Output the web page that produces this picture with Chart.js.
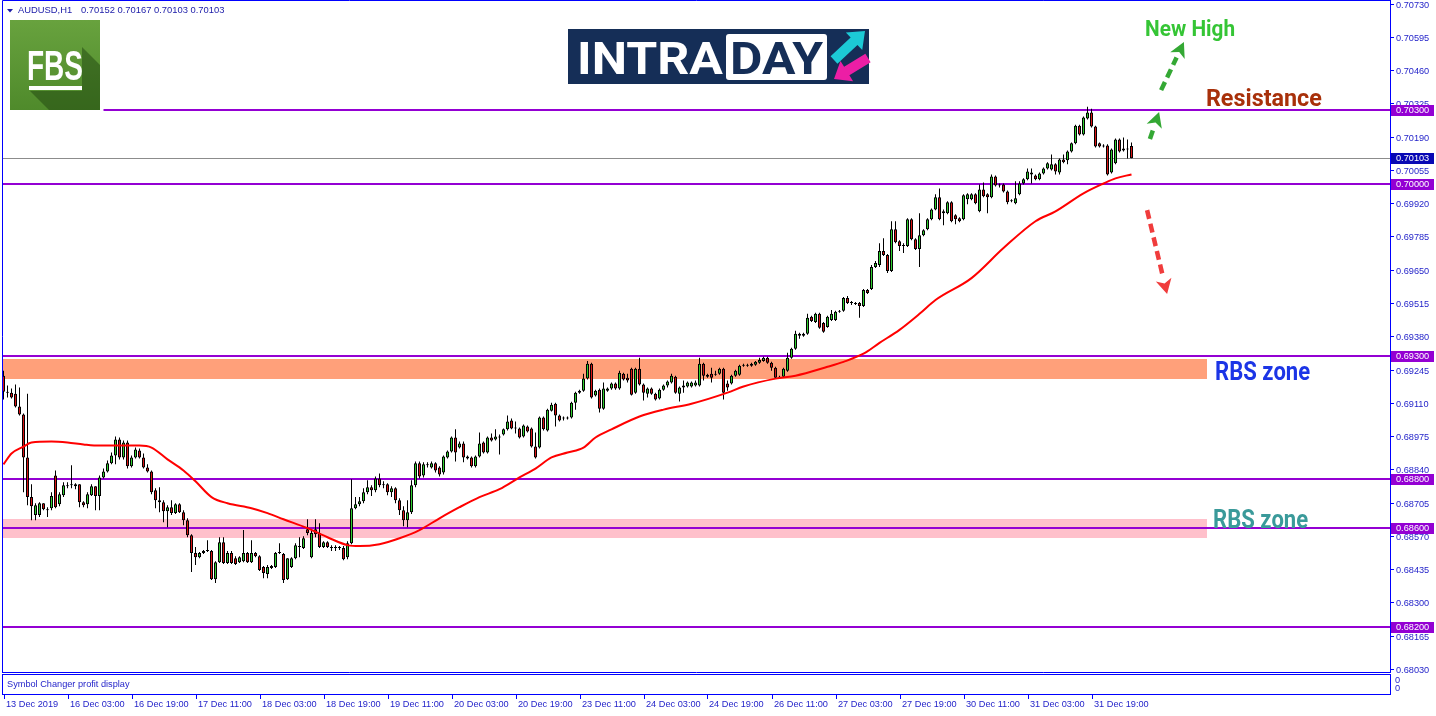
<!DOCTYPE html>
<html><head><meta charset="utf-8">
<script src="https://cdn.jsdelivr.net/npm/chart.js@4.4.1/dist/chart.umd.min.js"></script>
<style>html,body{margin:0;padding:0;background:#fff;overflow:hidden}canvas{display:block}</style>
</head><body>
<canvas id="c" width="1436" height="716" style="width:1436px;height:716px"></canvas>
<script>
// ---------- DATA ----------
const symbolTitle = 'AUDUSD,H1';
const lastQuote = ['0.70152', '0.70167', '0.70103', '0.70103'];

const timeLabels = ['13 Dec 2019','16 Dec 03:00','16 Dec 19:00','17 Dec 11:00','18 Dec 03:00','18 Dec 19:00','19 Dec 11:00','20 Dec 03:00','20 Dec 19:00','23 Dec 11:00','24 Dec 03:00','24 Dec 19:00','26 Dec 11:00','27 Dec 03:00','27 Dec 19:00','30 Dec 11:00','31 Dec 03:00','31 Dec 19:00'];
const timeLabelBars = [0,16,32,48,64,80,96,112,128,144,160,176,192,208,224,240,256,272];

const priceTicks = [0.70730,0.70595,0.70460,0.70325,0.70190,0.70055,0.69920,0.69785,0.69650,0.69515,0.69380,0.69245,0.69110,0.68975,0.68840,0.68705,0.68570,0.68435,0.68300,0.68165,0.68030];

const opens = [0.69220,0.69155,0.69151,0.69147,0.69095,0.69062,0.68888,0.68727,0.68654,0.68654,
0.68702,0.68678,0.68682,0.68815,0.68698,0.68735,0.68775,0.68775,0.68779,0.68779,
0.68706,0.68698,0.68735,0.68771,0.68731,0.68807,0.68831,0.68864,0.68896,0.68961,
0.68888,0.68949,0.68852,0.68888,0.68916,0.68888,0.68847,0.68831,0.68755,0.68714,
0.68706,0.68670,0.68686,0.68662,0.68698,0.68666,0.68633,0.68572,0.68500,0.68483,
0.68500,0.68508,0.68508,0.68394,0.68463,0.68544,0.68459,0.68500,0.68479,0.68463,
0.68467,0.68500,0.68463,0.68500,0.68487,0.68443,0.68415,0.68439,0.68443,0.68500,
0.68496,0.68394,0.68443,0.68479,0.68524,0.68520,0.68597,0.68483,0.68597,0.68581,
0.68524,0.68544,0.68524,0.68520,0.68524,0.68520,0.68483,0.68540,0.68682,0.68698,
0.68710,0.68747,0.68767,0.68755,0.68803,0.68775,0.68779,0.68747,0.68763,0.68714,
0.68674,0.68633,0.68666,0.68775,0.68864,0.68815,0.68860,0.68847,0.68864,0.68847,
0.68827,0.68888,0.68912,0.68969,0.68928,0.68945,0.68892,0.68888,0.68852,0.68892,
0.68949,0.68908,0.68969,0.68961,0.68973,0.68981,0.69002,0.69038,0.69006,0.69006,
0.68973,0.69014,0.69006,0.68932,0.68928,0.69050,0.68997,0.69078,0.69106,0.69058,
0.69046,0.69046,0.69050,0.69110,0.69151,0.69159,0.69208,0.69268,0.69139,0.69163,
0.69086,0.69159,0.69168,0.69188,0.69168,0.69228,0.69212,0.69248,0.69151,0.69248,
0.69184,0.69147,0.69168,0.69147,0.69127,0.69163,0.69180,0.69192,0.69216,0.69147,
0.69180,0.69176,0.69176,0.69180,0.69180,0.69268,0.69224,0.69228,0.69224,0.69228,
0.69248,0.69188,0.69188,0.69220,0.69224,0.69260,0.69260,0.69260,0.69264,0.69272,
0.69280,0.69293,0.69272,0.69252,0.69216,0.69216,0.69240,0.69293,0.69329,0.69382,
0.69382,0.69390,0.69459,0.69438,0.69471,0.69434,0.69418,0.69446,0.69446,0.69479,
0.69483,0.69535,0.69515,0.69515,0.69515,0.69503,0.69568,0.69572,0.69661,0.69669,
0.69726,0.69710,0.69645,0.69814,0.69766,0.69750,0.69746,0.69855,0.69774,0.69734,
0.69790,0.69814,0.69855,0.69895,0.69944,0.69887,0.69879,0.69924,0.69871,0.69859,
0.69855,0.69936,0.69936,0.69956,0.69887,0.69976,0.69956,0.69944,0.70029,0.69996,
0.69996,0.69968,0.69928,0.69920,0.69956,0.70000,0.70017,0.70045,0.70033,0.70017,
0.70041,0.70061,0.70057,0.70078,0.70045,0.70098,0.70094,0.70130,0.70163,0.70235,
0.70199,0.70264,0.70288,0.70231,0.70163,0.70154,0.70154,0.70045,0.70082,0.70179,
0.70142,0.70142,0.70152];

const highs = [0.69240,0.69180,0.69168,0.69184,0.69172,0.69066,0.69147,0.68779,0.68702,0.68706,
0.68702,0.68686,0.68747,0.68835,0.68747,0.68787,0.68787,0.68856,0.68783,0.68779,
0.68710,0.68747,0.68779,0.68771,0.68815,0.68843,0.68876,0.68908,0.68973,0.68969,
0.68957,0.68957,0.68896,0.68928,0.68924,0.68904,0.68860,0.68835,0.68763,0.68767,
0.68714,0.68694,0.68714,0.68702,0.68702,0.68674,0.68641,0.68576,0.68524,0.68504,
0.68512,0.68552,0.68512,0.68467,0.68564,0.68564,0.68508,0.68508,0.68487,0.68487,
0.68593,0.68504,0.68552,0.68504,0.68491,0.68447,0.68451,0.68451,0.68504,0.68540,
0.68500,0.68479,0.68483,0.68540,0.68564,0.68568,0.68637,0.68593,0.68637,0.68621,
0.68548,0.68548,0.68532,0.68532,0.68528,0.68528,0.68548,0.68799,0.68727,0.68727,
0.68763,0.68795,0.68775,0.68811,0.68823,0.68791,0.68783,0.68771,0.68767,0.68722,
0.68690,0.68714,0.68795,0.68872,0.68872,0.68868,0.68868,0.68872,0.68868,0.68852,
0.68896,0.68916,0.68973,0.69002,0.68953,0.68953,0.68896,0.68892,0.68896,0.68989,
0.68953,0.68973,0.68985,0.69002,0.68981,0.69006,0.69058,0.69046,0.69034,0.69010,
0.69022,0.69018,0.69010,0.68989,0.69054,0.69054,0.69086,0.69110,0.69110,0.69062,
0.69054,0.69054,0.69114,0.69155,0.69163,0.69228,0.69280,0.69272,0.69163,0.69168,
0.69192,0.69172,0.69192,0.69192,0.69240,0.69232,0.69228,0.69252,0.69252,0.69293,
0.69188,0.69172,0.69172,0.69151,0.69168,0.69184,0.69200,0.69228,0.69220,0.69176,
0.69200,0.69196,0.69196,0.69200,0.69293,0.69272,0.69228,0.69252,0.69240,0.69252,
0.69252,0.69200,0.69224,0.69244,0.69264,0.69268,0.69268,0.69272,0.69280,0.69293,
0.69297,0.69297,0.69276,0.69256,0.69220,0.69252,0.69313,0.69333,0.69402,0.69394,
0.69394,0.69471,0.69463,0.69475,0.69475,0.69438,0.69463,0.69487,0.69483,0.69487,
0.69539,0.69543,0.69523,0.69519,0.69519,0.69572,0.69572,0.69669,0.69685,0.69758,
0.69778,0.69714,0.69847,0.69847,0.69770,0.69758,0.69859,0.69859,0.69778,0.69879,
0.69814,0.69859,0.69899,0.69956,0.69980,0.69895,0.69928,0.69928,0.69875,0.69863,
0.69956,0.69960,0.69960,0.69960,0.69996,0.70004,0.69960,0.70037,0.70033,0.70000,
0.70000,0.69972,0.69936,0.70009,0.70009,0.70021,0.70061,0.70061,0.70037,0.70045,
0.70065,0.70086,0.70118,0.70082,0.70102,0.70118,0.70134,0.70167,0.70239,0.70239,
0.70272,0.70312,0.70304,0.70235,0.70167,0.70159,0.70159,0.70142,0.70183,0.70183,
0.70187,0.70179,0.70167];

const lows = [0.69123,0.69131,0.69127,0.69091,0.69058,0.68747,0.68694,0.68633,0.68633,0.68646,
0.68674,0.68646,0.68674,0.68682,0.68690,0.68727,0.68763,0.68763,0.68759,0.68686,
0.68686,0.68682,0.68731,0.68674,0.68674,0.68803,0.68827,0.68860,0.68860,0.68880,
0.68880,0.68843,0.68847,0.68884,0.68884,0.68843,0.68827,0.68739,0.68682,0.68666,
0.68625,0.68605,0.68654,0.68658,0.68662,0.68613,0.68564,0.68423,0.68451,0.68479,
0.68496,0.68504,0.68390,0.68378,0.68459,0.68455,0.68455,0.68455,0.68451,0.68459,
0.68463,0.68459,0.68459,0.68483,0.68427,0.68398,0.68398,0.68435,0.68439,0.68496,
0.68378,0.68390,0.68439,0.68475,0.68483,0.68516,0.68572,0.68479,0.68564,0.68520,
0.68520,0.68520,0.68508,0.68508,0.68512,0.68471,0.68475,0.68536,0.68678,0.68690,
0.68702,0.68739,0.68731,0.68747,0.68767,0.68763,0.68735,0.68727,0.68702,0.68654,
0.68609,0.68605,0.68658,0.68767,0.68803,0.68807,0.68847,0.68843,0.68827,0.68811,
0.68819,0.68884,0.68908,0.68872,0.68924,0.68868,0.68880,0.68847,0.68847,0.68888,
0.68904,0.68904,0.68953,0.68957,0.68900,0.68977,0.68997,0.69002,0.68985,0.68965,
0.68969,0.68989,0.68928,0.68884,0.68924,0.68997,0.68993,0.69074,0.69014,0.69034,
0.69038,0.69042,0.69046,0.69082,0.69147,0.69155,0.69204,0.69127,0.69135,0.69070,
0.69082,0.69155,0.69163,0.69163,0.69163,0.69200,0.69192,0.69139,0.69147,0.69180,
0.69119,0.69131,0.69143,0.69119,0.69123,0.69159,0.69172,0.69188,0.69147,0.69115,
0.69151,0.69172,0.69172,0.69176,0.69176,0.69200,0.69212,0.69192,0.69220,0.69224,
0.69123,0.69159,0.69184,0.69216,0.69220,0.69256,0.69256,0.69256,0.69260,0.69268,
0.69276,0.69268,0.69240,0.69208,0.69208,0.69212,0.69236,0.69289,0.69325,0.69370,
0.69378,0.69386,0.69438,0.69434,0.69410,0.69394,0.69414,0.69442,0.69442,0.69475,
0.69479,0.69511,0.69507,0.69507,0.69455,0.69499,0.69552,0.69568,0.69657,0.69661,
0.69706,0.69637,0.69641,0.69758,0.69726,0.69718,0.69742,0.69770,0.69730,0.69661,
0.69786,0.69810,0.69851,0.69891,0.69851,0.69831,0.69875,0.69843,0.69835,0.69843,
0.69851,0.69916,0.69932,0.69916,0.69883,0.69944,0.69879,0.69940,0.69988,0.69984,
0.69964,0.69916,0.69924,0.69916,0.69952,0.69996,0.70013,0.70000,0.70013,0.70013,
0.70037,0.70057,0.70053,0.70037,0.70037,0.70082,0.70078,0.70126,0.70159,0.70195,
0.70195,0.70260,0.70227,0.70146,0.70146,0.70146,0.70033,0.70041,0.70078,0.70126,
0.70130,0.70102,0.70103];

const closes = [0.69155,0.69151,0.69131,0.69095,0.69062,0.68888,0.68727,0.68690,0.68694,0.68702,
0.68678,0.68674,0.68731,0.68686,0.68739,0.68775,0.68771,0.68779,0.68771,0.68706,
0.68694,0.68739,0.68771,0.68731,0.68807,0.68831,0.68864,0.68896,0.68961,0.68888,
0.68949,0.68852,0.68888,0.68920,0.68888,0.68847,0.68831,0.68747,0.68714,0.68706,
0.68670,0.68686,0.68662,0.68698,0.68666,0.68633,0.68572,0.68500,0.68483,0.68500,
0.68508,0.68512,0.68394,0.68463,0.68544,0.68459,0.68500,0.68459,0.68455,0.68483,
0.68500,0.68463,0.68500,0.68487,0.68431,0.68419,0.68443,0.68447,0.68500,0.68504,
0.68390,0.68479,0.68479,0.68532,0.68528,0.68560,0.68581,0.68581,0.68576,0.68524,
0.68544,0.68524,0.68520,0.68524,0.68520,0.68475,0.68540,0.68682,0.68698,0.68710,
0.68747,0.68767,0.68755,0.68803,0.68775,0.68779,0.68747,0.68763,0.68714,0.68674,
0.68633,0.68666,0.68775,0.68864,0.68811,0.68860,0.68856,0.68864,0.68835,0.68819,
0.68892,0.68912,0.68969,0.68908,0.68945,0.68888,0.68884,0.68852,0.68892,0.68945,
0.68908,0.68969,0.68957,0.68973,0.68969,0.69002,0.69034,0.69006,0.69010,0.68969,
0.69018,0.68993,0.68932,0.68888,0.69050,0.69002,0.69082,0.69102,0.69058,0.69038,
0.69050,0.69050,0.69110,0.69151,0.69159,0.69208,0.69268,0.69131,0.69159,0.69086,
0.69168,0.69168,0.69188,0.69168,0.69232,0.69204,0.69200,0.69143,0.69248,0.69184,
0.69151,0.69168,0.69147,0.69123,0.69163,0.69180,0.69196,0.69220,0.69151,0.69172,
0.69172,0.69192,0.69192,0.69192,0.69268,0.69220,0.69216,0.69212,0.69228,0.69248,
0.69151,0.69172,0.69220,0.69240,0.69260,0.69264,0.69264,0.69268,0.69276,0.69284,
0.69293,0.69272,0.69252,0.69212,0.69212,0.69248,0.69293,0.69329,0.69390,0.69390,
0.69390,0.69455,0.69442,0.69471,0.69414,0.69398,0.69459,0.69471,0.69479,0.69483,
0.69535,0.69515,0.69519,0.69511,0.69503,0.69568,0.69556,0.69661,0.69677,0.69726,
0.69710,0.69645,0.69814,0.69762,0.69746,0.69746,0.69855,0.69774,0.69734,0.69790,
0.69810,0.69855,0.69895,0.69944,0.69855,0.69879,0.69924,0.69847,0.69855,0.69847,
0.69952,0.69956,0.69956,0.69920,0.69976,0.69948,0.69944,0.70029,0.69992,0.69992,
0.69968,0.69924,0.69932,0.69940,0.70000,0.70017,0.70049,0.70037,0.70017,0.70041,
0.70061,0.70082,0.70078,0.70049,0.70098,0.70086,0.70130,0.70163,0.70235,0.70199,
0.70268,0.70288,0.70231,0.70150,0.70150,0.70150,0.70037,0.70138,0.70179,0.70130,
0.70134,0.70138,0.70103];

// moving average at these bars
const maBars = [0,2,5,7,12,16,20,24,28,34,37,41,45,48,52,56,62,66,70,76,81,86,89,94,99,104,109,114,119,124,129,133,137,141,145,148,152,159,165,172,181,185,193,198,206,210,215,219,224,229,233,242,250,258,263,270,275,278,282];
const maValues = [0.68860,0.68904,0.68932,0.68949,0.68953,0.68949,0.68941,0.68936,0.68936,0.68936,
0.68928,0.68880,0.68835,0.68791,0.68727,0.68702,0.68682,0.68662,0.68637,0.68601,
0.68564,0.68532,0.68528,0.68536,0.68560,0.68593,0.68641,0.68686,0.68727,0.68759,
0.68807,0.68843,0.68888,0.68908,0.68928,0.68969,0.69002,0.69054,0.69082,0.69106,
0.69151,0.69176,0.69208,0.69220,0.69256,0.69276,0.69309,0.69353,0.69406,0.69471,
0.69527,0.69616,0.69738,0.69847,0.69887,0.69960,0.70000,0.70021,0.70037];

// horizontal levels and their starting bar
const levelPrices = [0.70300,0.70000,0.69300,0.68800,0.68600,0.68200];
const levelStartBars = [25,-2,-2,-2,-2,-2];
const bidPrice = 0.70103;

// zones: [upper, lower] price bounds and bar range
const zoneUpper = [0.69288, 0.68638];
const zoneLower = [0.69206, 0.68561];
const zoneEndBar = [300.9, 300.9];

// ---------- STYLE / ANNOTATION CONFIG ----------
const BLUE_LINE = '#0000ff';
const BLUE_TEXT = '#1e1ec8';
const PURPLE = '#9400d3';
const SMALL_FONT = '9.2px "Liberation Sans", Arial, sans-serif';

const notes = [
  {text:'New High',   bar:285.4, price:0.70599, color:'#35c535', size:22, width:90},
  {text:'Resistance', bar:300.6, price:0.70314, color:'#a8300a', size:24, width:116},
  {text:'RBS zone',   bar:302.9, price:0.69202, color:'#1c35e6', size:25, width:95},
  {text:'RBS zone',   bar:302.4, price:0.68602, color:'#3a9a9a', size:25, width:95}
];
const arrows = [
  {b1:286.6, p1:0.70181, b2:288.9, p2:0.70290, color:'#34a834'},
  {b1:289.4, p1:0.70379, b2:295.1, p2:0.70574, color:'#34a834'},
  {b1:285.9, p1:0.69892, b2:290.9, p2:0.69551, color:'#f03c3c'}
];
const zoneColors = ['#ffa07a', '#ffc0cb'];

function fitText(ctx, text, x, y, font, width, color){
  ctx.save();
  ctx.font = font;
  const w = ctx.measureText(text).width;
  ctx.translate(x, y);
  ctx.scale(width / w, 1);
  ctx.fillStyle = color;
  ctx.textBaseline = 'alphabetic';
  ctx.textAlign = 'left';
  ctx.fillText(text, 0, 0);
  ctx.restore();
}
function solidArrow(ctx, x1,y1,x2,y2, sw, hw, hl, color){
  const dx=x2-x1, dy=y2-y1, L=Math.hypot(dx,dy), ux=dx/L, uy=dy/L, nx=-uy, ny=ux;
  const bx=x2-ux*hl, by=y2-uy*hl;
  ctx.fillStyle=color;
  ctx.beginPath();
  ctx.moveTo(x1+nx*sw/2, y1+ny*sw/2);
  ctx.lineTo(bx+nx*sw/2, by+ny*sw/2);
  ctx.lineTo(bx+nx*hw, by+ny*hw);
  ctx.lineTo(x2, y2);
  ctx.lineTo(bx-nx*hw, by-ny*hw);
  ctx.lineTo(bx-nx*sw/2, by-ny*sw/2);
  ctx.lineTo(x1-nx*sw/2, y1-ny*sw/2);
  ctx.closePath(); ctx.fill();
}
function dashedArrow(ctx, x1,y1,x2,y2,color){
  const dx=x2-x1, dy=y2-y1, L=Math.hypot(dx,dy), ux=dx/L, uy=dy/L, nx=-uy, ny=ux;
  const hl=15, hw=8;
  const bx=x2-ux*hl, by=y2-uy*hl;
  ctx.save();
  ctx.strokeStyle=color; ctx.lineWidth=4.5; ctx.setLineDash([9,5]);
  ctx.beginPath(); ctx.moveTo(x1,y1); ctx.lineTo(bx-ux*2, by-uy*2); ctx.stroke();
  ctx.setLineDash([]);
  ctx.fillStyle=color;
  ctx.beginPath();
  ctx.moveTo(x2,y2);
  ctx.lineTo(bx+nx*hw, by+ny*hw);
  ctx.lineTo(bx+ux*4, by+uy*4);
  ctx.lineTo(bx-nx*hw, by-ny*hw);
  ctx.closePath(); ctx.fill();
  ctx.restore();
}

const overlay = {
  id: 'overlay',
  beforeDatasetsDraw(chart){
    const {ctx, chartArea:a, scales:{x, y}} = chart;
    ctx.save();
    ctx.beginPath(); ctx.rect(a.left, a.top, a.right-a.left, a.bottom-a.top); ctx.clip();
    zoneUpper.forEach((u, i) => {
      const x1 = Math.max(a.left, x.getPixelForValue(-2));
      const x2 = Math.round(x.getPixelForValue(zoneEndBar[i]));
      const y1 = Math.round(y.getPixelForValue(u));
      const y2 = Math.round(y.getPixelForValue(zoneLower[i]));
      ctx.fillStyle = zoneColors[i];
      ctx.fillRect(x1, y1, x2-x1, y2-y1);
    });
    const yb = Math.round(y.getPixelForValue(bidPrice)) + 0.5;
    ctx.strokeStyle = '#8c8c8c'; ctx.lineWidth = 1;
    ctx.beginPath(); ctx.moveTo(a.left, yb); ctx.lineTo(a.right, yb); ctx.stroke();
    ctx.strokeStyle = PURPLE; ctx.lineWidth = 2;
    levelPrices.forEach((v, i) => {
      const yy = Math.round(y.getPixelForValue(v));
      const xs = Math.max(a.left, x.getPixelForValue(levelStartBars[i]));
      ctx.beginPath(); ctx.moveTo(xs, yy); ctx.lineTo(a.right, yy); ctx.stroke();
    });
    ctx.restore();
  },
  afterDraw(chart){
    const {ctx, chartArea:a, scales:{x, y}} = chart;
    ctx.save();
    ctx.strokeStyle = BLUE_LINE; ctx.lineWidth = 1;
    ctx.beginPath();
    ctx.moveTo(a.left+0.5, a.bottom); ctx.lineTo(a.left+0.5, 0.5); ctx.lineTo(a.right, 0.5);
    ctx.moveTo(a.left, a.bottom+0.5); ctx.lineTo(a.right+1, a.bottom+0.5);
    ctx.moveTo(a.right+0.5, 0); ctx.lineTo(a.right+0.5, a.bottom);
    ctx.stroke();
    // price axis labels
    ctx.font = SMALL_FONT; ctx.fillStyle = BLUE_TEXT; ctx.textBaseline = 'middle'; ctx.textAlign = 'left';
    priceTicks.forEach(v => {
      const yy = Math.round(y.getPixelForValue(v)) + 0.5;
      ctx.beginPath(); ctx.moveTo(a.right, yy); ctx.lineTo(a.right+4, yy); ctx.stroke();
      ctx.fillText(v.toFixed(5), a.right+6, Math.max(yy+0.5, 5));
    });
    // sub window
    ctx.strokeRect(a.left+0.5, 674.5, a.right-a.left, 20);
    ctx.fillText('Symbol Changer profit display', 7, 684);
    ctx.fillText('0', 1395, 680);
    ctx.fillText('0', 1395, 688);
    // time axis
    timeLabelBars.forEach((b, i) => {
      const px = Math.round(x.getPixelForValue(b)) + 0.5;
      ctx.beginPath(); ctx.moveTo(px, 695); ctx.lineTo(px, 699); ctx.stroke();
      ctx.fillText(timeLabels[i], px + 1.5, 704);
    });
    // header
    ctx.fillStyle = '#1a1aa8';
    ctx.beginPath(); ctx.moveTo(7,9); ctx.lineTo(13,9); ctx.lineTo(10,12.5); ctx.closePath(); ctx.fill();
    ctx.font = '9.4px "Liberation Sans", Arial, sans-serif';
    ctx.fillText(symbolTitle, 18, 10.5);
    ctx.fillText(lastQuote.join(' '), 81, 10.5);
    // price boxes on the axis
    ctx.font = SMALL_FONT;
    levelPrices.forEach(v => {
      const yy = Math.round(y.getPixelForValue(v));
      ctx.fillStyle = PURPLE; ctx.fillRect(a.right+1, yy-5, 43, 11);
      ctx.fillStyle = '#ffffff'; ctx.fillText(v.toFixed(5), a.right+6, yy+0.5);
    });
    {
      const yy = Math.round(y.getPixelForValue(bidPrice));
      ctx.fillStyle = '#0808b4'; ctx.fillRect(a.right+1, yy-5, 43, 11);
      ctx.fillStyle = '#ffffff'; ctx.fillText(bidPrice.toFixed(5), a.right+6, yy+0.5);
    }
    // FBS logo
    const g = ctx.createLinearGradient(10, 20, 10, 110);
    g.addColorStop(0, '#68a23e'); g.addColorStop(1, '#4f8a2b');
    ctx.fillStyle = g; ctx.fillRect(10, 20, 90, 90);
    ctx.fillStyle = 'rgba(25,60,12,0.45)';
    ctx.beginPath(); ctx.moveTo(82,47); ctx.lineTo(100,65); ctx.lineTo(100,110); ctx.lineTo(49,110);
    ctx.lineTo(30,91); ctx.lineTo(82,91); ctx.closePath(); ctx.fill();
    fitText(ctx, 'FBS', 27, 79.5, 'bold 42px "Liberation Sans", Arial, sans-serif', 56, '#ffffff');
    ctx.fillStyle = '#ffffff'; ctx.fillRect(29, 86, 53, 4);
    // INTRADAY logo
    ctx.fillStyle = '#152e57'; ctx.fillRect(568, 29, 301, 55);
    ctx.fillStyle = '#ffffff';
    ctx.beginPath(); ctx.roundRect(726, 34, 101, 46, 3); ctx.fill();
    fitText(ctx, 'INTRA', 577, 74, 'bold 44px Roboto, "Liberation Sans", sans-serif', 146, '#ffffff');
    fitText(ctx, 'DAY', 730, 74, 'bold 44px Roboto, "Liberation Sans", sans-serif', 93, '#152e57');
    solidArrow(ctx, 834, 60, 865, 31, 10, 12, 15, '#1ccad6');
    solidArrow(ctx, 868, 58, 834, 79, 10, 12, 15, '#ec1ea5');
    // annotations
    notes.forEach(n => {
      fitText(ctx, n.text, x.getPixelForValue(n.bar), y.getPixelForValue(n.price),
        'bold ' + n.size + 'px Roboto, "Liberation Sans", sans-serif', n.width, n.color);
    });
    arrows.forEach(ar => {
      dashedArrow(ctx, x.getPixelForValue(ar.b1), y.getPixelForValue(ar.p1),
        x.getPixelForValue(ar.b2), y.getPixelForValue(ar.p2), ar.color);
    });
    ctx.restore();
  }
};

new Chart(document.getElementById('c'), {
  type: 'bar',
  data: {
    datasets: [
      { type:'line', label:'MA', data: maBars.map((b,i)=>({x:b, y:maValues[i]})),
        borderColor:'#ff0000', borderWidth:2, pointRadius:0, cubicInterpolationMode:'monotone', order:0 },
      { label:'body', data: opens.map((o,i)=>({x:i, y:[o, closes[i]]})),
        backgroundColor: opens.map((o,i)=> closes[i] >= o ? '#2fcf2f' : '#d81414'),
        borderColor:'#000000', borderWidth:1, borderSkipped:false, barThickness:3, maxBarThickness:3,
        grouped:false, minBarLength:1, inflateAmount:0, order:1 },
      { label:'wick', data: highs.map((h,i)=>({x:i, y:[lows[i], h]})),
        backgroundColor:'#000000', borderWidth:0, barThickness:1, maxBarThickness:1,
        grouped:false, inflateAmount:0, order:2 }
    ]
  },
  options: {
    responsive:false, animation:false, devicePixelRatio:1,
    layout:{ autoPadding:false, padding:{left:2, top:0, right:0, bottom:44} },
    plugins:{ legend:{display:false}, tooltip:{enabled:false} },
    scales:{
      x:{ type:'linear', display:false, min:-0.375, max:346.625, offset:false },
      y:{ type:'linear', position:'right', min:0.68017, max:0.70745,
          afterBuildTicks: ax => { ax.ticks = priceTicks.map(v => ({value:v})); },
          afterFit: s => { s.width = 46; s.paddingTop = 0; s.paddingBottom = 0; },
          ticks:{ display:false, autoSkip:false },
          grid:{ display:false },
          border:{ display:false } }
    }
  },
  plugins:[overlay]
});
</script>
</body></html>
